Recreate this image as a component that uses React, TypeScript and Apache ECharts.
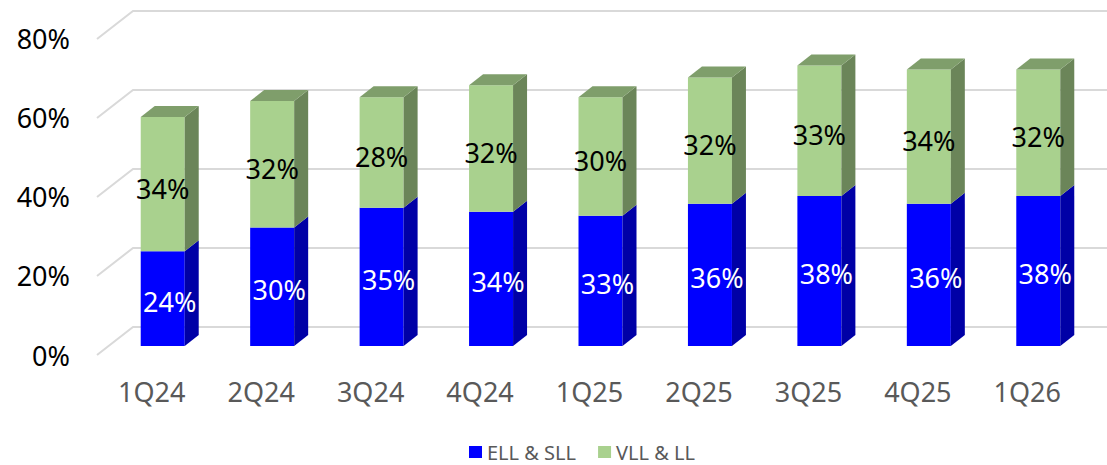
import React, { useEffect, useRef } from "react";
import * as echarts from "echarts";

const categories = ["1Q24", "2Q24", "3Q24", "4Q24", "1Q25", "2Q25", "3Q25", "4Q25", "1Q26"];
const ellSll = [24, 30, 35, 34, 33, 36, 38, 36, 38];
const vllLl = [34, 32, 28, 32, 30, 32, 33, 34, 32];
const yTicks = [0, 20, 40, 60, 80];
const seriesNames = ["ELL & SLL", "VLL & LL"];

const FONT = "'Noto Sans', 'Open Sans', sans-serif";
const BAR_W = 44;
const DX = 14;
const DY = 11;

type Colors = { front: string; side: string; top: string };

function makeBarRender(c: Colors, labelColor: string, off: [number, number], drawTop: boolean) {
  return (params: any, api: any) => {
    const i = api.value(0);
    const base = api.value(1);
    const topV = api.value(2);
    const lab = api.value(3);
    const p0 = api.coord([i, base]);
    const p1 = api.coord([i, topV]);
    const l = p0[0] - BAR_W / 2;
    const r = p0[0] + BAR_W / 2;
    const yb = p0[1];
    const yt = p1[1];
    const children: any[] = [
      { type: "rect", shape: { x: l, y: yt, width: BAR_W, height: yb - yt }, style: { fill: c.front } },
      {
        type: "polygon",
        shape: { points: [[r, yb], [r + DX, yb - DY], [r + DX, yt - DY], [r, yt]] },
        style: { fill: c.side },
      },
    ];
    if (drawTop) {
      children.push({
        type: "polygon",
        shape: { points: [[l, yt], [l + DX, yt - DY], [r + DX, yt - DY], [r, yt]] },
        style: { fill: c.top },
      });
    }
    children.push({
      type: "text",
      x: (l + r) / 2 + off[0],
      y: (yb + yt) / 2 + off[1],
      style: {
        text: lab + "%",
        fill: labelColor,
        fontSize: 27,
        fontFamily: FONT,
        align: "center",
        verticalAlign: "middle",
      },
    });
    return { type: "group", children };
  };
}

export default function App() {
  const ref = useRef<HTMLDivElement>(null);
  useEffect(() => {
    document.body.style.margin = "0";
    if (!ref.current) return;
    const chart = echarts.init(ref.current, undefined, { renderer: "svg" });
    const blueData = categories.map((_, i) => [i, 0, ellSll[i], ellSll[i]]);
    const greenData = categories.map((_, i) => [i, ellSll[i], ellSll[i] + vllLl[i], vllLl[i]]);
    chart.setOption({
      animation: false,
      textStyle: { fontFamily: FONT },
      grid: [
        { left: 108, right: 14, top: 30, bottom: 119 },
        { left: 97, right: 25, top: 38, bottom: 110 },
      ],
      xAxis: [
        { type: "category", data: categories, gridIndex: 0, show: false },
        {
          type: "category",
          data: categories,
          gridIndex: 1,
          axisLine: { show: false },
          axisTick: { show: false },
          axisLabel: { fontSize: 27, color: "#595959", margin: 23, fontFamily: FONT },
        },
      ],
      yAxis: [
        { type: "value", min: 0, max: 80, interval: 20, gridIndex: 0, show: false },
        {
          type: "value",
          min: 0,
          max: 80,
          interval: 20,
          gridIndex: 1,
          axisLine: { show: false },
          axisTick: { show: false },
          splitLine: { show: false },
          axisLabel: { fontSize: 27, color: "#000000", margin: 27, formatter: "{value}%", fontFamily: FONT },
        },
      ],
      legend: {
        data: seriesNames,
        left: 464,
        top: 437,
        itemWidth: 13,
        itemHeight: 12,
        itemGap: 22,
        icon: "rect",
        textStyle: { fontSize: 20, color: "#595959", fontFamily: FONT },
      },
      series: [
        {
          type: "custom",
          xAxisIndex: 0,
          yAxisIndex: 0,
          silent: true,
          z: 1,
          data: yTicks.map((v) => [0, v]),
          encode: { x: 0, y: 1 },
          renderItem: (params: any, api: any) => {
            const y = api.coord([0, api.value(1)])[1];
            const cs = params.coordSys;
            const xf = cs.x - 11;
            const xb = cs.x + 25;
            const xe = cs.x + cs.width + 14;
            return {
              type: "polyline",
              shape: { points: [[xf, y + 9], [xb, y - 19], [xe, y - 19]] },
              style: { stroke: "#d9d9d9", lineWidth: 2, fill: "none" },
            };
          },
        },
        {
          name: seriesNames[0],
          type: "custom",
          xAxisIndex: 0,
          yAxisIndex: 0,
          z: 2,
          itemStyle: { color: "#0000ff" },
          data: blueData,
          encode: { x: 0, y: [1, 2] },
          renderItem: makeBarRender({ front: "#0000ff", side: "#0000a6", top: "#0000c0" }, "#ffffff", [7, 3], false),
        },
        {
          name: seriesNames[1],
          type: "custom",
          xAxisIndex: 0,
          yAxisIndex: 0,
          z: 3,
          itemStyle: { color: "#a9d18e" },
          data: greenData,
          encode: { x: 0, y: [1, 2] },
          renderItem: makeBarRender({ front: "#a9d18e", side: "#6b8559", top: "#7f9e6b" }, "#000000", [0, 4], true),
        },
      ],
    });
    return () => chart.dispose();
  }, []);
  return <div ref={ref} style={{ width: 1107, height: 465 }} />;
}
